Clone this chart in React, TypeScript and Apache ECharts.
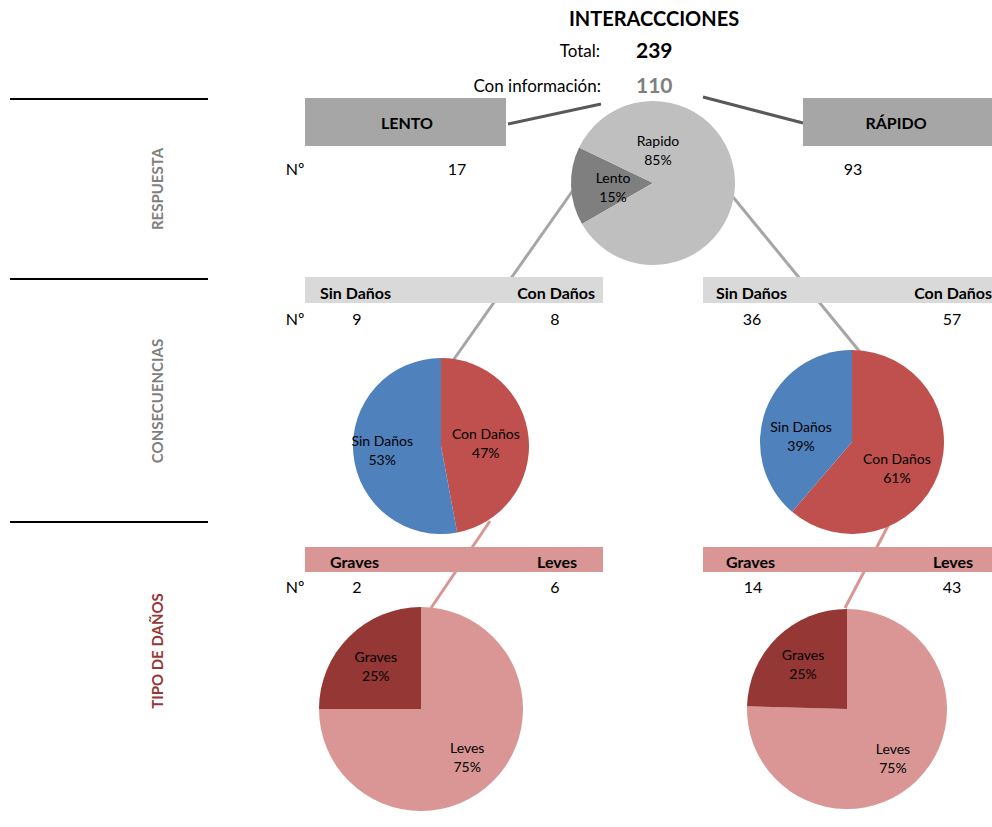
import React, { useEffect, useRef } from 'react';
import * as echarts from 'echarts';

const TITLE = 'INTERACCCIONES';
const TOTAL_LABEL = 'Total:';
const TOTAL_VALUE = 239;
const INFO_LABEL = 'Con información:';
const INFO_VALUE = 110;

const SECTION_TITLES = ['RESPUESTA', 'CONSECUENCIAS', 'TIPO DE DAÑOS'];
const RESPUESTA_HEADERS = ['LENTO', 'RÁPIDO'];
const RESPUESTA_NAMES = ['Lento', 'Rapido'];
const RESPUESTA_VALUES = [17, 93];
const CONSEC_NAMES = ['Sin Daños', 'Con Daños'];
const CONSEC_LENTO = [9, 8];
const CONSEC_RAPIDO = [36, 57];
const TIPO_NAMES = ['Graves', 'Leves'];
const TIPO_LENTO = [2, 6];
const TIPO_RAPIDO = [14, 43];
const ROW_LABEL = 'Nº';

const FONT = 'Lato';
const C_LENTO = '#7f7f7f';
const C_RAPIDO = '#bfbfbf';
const C_SIN = '#4f81bd';
const C_CON = '#c0504d';
const C_GRAVES = '#953735';
const C_LEVES = '#d99694';

function txt(text: string, x: number, y: number, opts: any = {}) {
  return {
    type: 'text',
    x,
    y,
    z: 20,
    rotation: opts.rotation || 0,
    style: {
      text,
      fill: opts.fill || '#000',
      font: `${opts.bold ? 'bold ' : ''}${opts.size || 16}px ${FONT}`,
      align: opts.align || 'center',
      verticalAlign: 'middle',
    },
  };
}
function rect(x: number, y: number, width: number, height: number, fill: string) {
  return { type: 'rect', z: 1, shape: { x, y, width, height }, style: { fill } };
}
function line(x1: number, y1: number, x2: number, y2: number, stroke: string, lineWidth: number) {
  return { type: 'line', z: 0, shape: { x1, y1, x2, y2 }, style: { stroke, lineWidth } };
}

function pieSeries(center: number[], radius: number, data: any[], startAngle: number, offsets: number[][]) {
  return {
    type: 'pie',
    center,
    radius,
    startAngle,
    clockwise: true,
    silent: true,
    avoidLabelOverlap: false,
    percentPrecision: 0,
    z: 5,
    data,
    itemStyle: { borderWidth: 0 },
    label: {
      show: true,
      position: 'inside',
      formatter: '{b}\n{d}%',
      color: '#000',
      fontFamily: FONT,
      fontSize: 14,
      lineHeight: 19,
    },
    labelLine: { show: false },
    labelLayout: (p: any) => {
      const o = offsets[p.dataIndex] || [0, 0];
      return { dx: o[0], dy: o[1] };
    },
  };
}

export default function App() {
  const ref = useRef<HTMLDivElement>(null);
  useEffect(() => {
    if (!ref.current) return;
    const chart = echarts.init(ref.current, null, { renderer: 'svg' });

    const topData = RESPUESTA_NAMES.map((n, i) => ({
      name: n,
      value: RESPUESTA_VALUES[i],
      itemStyle: { color: i === 0 ? C_LENTO : C_RAPIDO },
    }));
    const consecData = (vals: number[]) =>
      [1, 0].map((i) => ({ name: CONSEC_NAMES[i], value: vals[i], itemStyle: { color: i === 0 ? C_SIN : C_CON } }));
    const tipoData = (vals: number[]) =>
      [1, 0].map((i) => ({ name: TIPO_NAMES[i], value: vals[i], itemStyle: { color: i === 0 ? C_GRAVES : C_LEVES } }));

    const graphics: any[] = [
      // left section separators
      line(10, 99, 208, 99, '#000', 2),
      line(10, 279, 208, 279, '#000', 2),
      line(10, 522, 208, 522, '#000', 2),
      txt(SECTION_TITLES[0], 157, 189, { bold: true, size: 15, fill: '#7f7f7f', rotation: Math.PI / 2 }),
      txt(SECTION_TITLES[1], 157, 401, { bold: true, size: 15, fill: '#7f7f7f', rotation: Math.PI / 2 }),
      txt(SECTION_TITLES[2], 157, 651, { bold: true, size: 15, fill: C_GRAVES, rotation: Math.PI / 2 }),
      // header
      txt(TITLE, 654, 18, { bold: true, size: 20 }),
      txt(TOTAL_LABEL, 600, 50, { size: 17, align: 'right' }),
      txt(String(TOTAL_VALUE), 636, 49, { bold: true, size: 21, align: 'left' }),
      txt(INFO_LABEL, 601, 85, { size: 17, align: 'right' }),
      txt(String(INFO_VALUE), 636, 84, { bold: true, size: 21, align: 'left', fill: '#7f7f7f' }),
      // respuesta boxes
      rect(305, 98, 201, 48, '#a6a6a6'),
      rect(803, 98, 189, 48, '#a6a6a6'),
      txt(RESPUESTA_HEADERS[0], 407, 122, { bold: true, size: 16 }),
      txt(RESPUESTA_HEADERS[1], 896, 122, { bold: true, size: 16 }),
      line(508, 124, 601, 104, '#595959', 3),
      line(703, 97, 803, 123, '#595959', 3),
      txt(ROW_LABEL, 295, 168, { size: 16 }),
      txt(String(RESPUESTA_VALUES[0]), 457, 168, { size: 16 }),
      txt(String(RESPUESTA_VALUES[1]), 853, 168, { size: 16 }),
      // connectors to consecuencias
      line(576, 186, 452, 362, '#a6a6a6', 3),
      line(733, 197, 860, 352, '#a6a6a6', 3),
      // consecuencias bands
      rect(305, 277, 298, 26, '#d9d9d9'),
      rect(703, 277, 289, 26, '#d9d9d9'),
      txt(CONSEC_NAMES[0], 320, 292, { bold: true, size: 16, align: 'left' }),
      txt(CONSEC_NAMES[1], 595, 292, { bold: true, size: 16, align: 'right' }),
      txt(CONSEC_NAMES[0], 716, 292, { bold: true, size: 16, align: 'left' }),
      txt(CONSEC_NAMES[1], 992, 292, { bold: true, size: 16, align: 'right' }),
      txt(ROW_LABEL, 295, 318, { size: 16 }),
      txt(String(CONSEC_LENTO[0]), 357, 318, { size: 16 }),
      txt(String(CONSEC_LENTO[1]), 555, 318, { size: 16 }),
      txt(String(CONSEC_RAPIDO[0]), 752, 318, { size: 16 }),
      txt(String(CONSEC_RAPIDO[1]), 952, 318, { size: 16 }),
      // connectors to tipo
      line(490, 521, 431, 608, C_LEVES, 3),
      line(889, 524, 845, 608, C_LEVES, 3),
      // tipo bands
      rect(305, 547, 298, 25, C_LEVES),
      rect(703, 547, 289, 25, C_LEVES),
      txt(TIPO_NAMES[0], 330, 561, { bold: true, size: 16, align: 'left' }),
      txt(TIPO_NAMES[1], 577, 561, { bold: true, size: 16, align: 'right' }),
      txt(TIPO_NAMES[0], 726, 561, { bold: true, size: 16, align: 'left' }),
      txt(TIPO_NAMES[1], 973, 561, { bold: true, size: 16, align: 'right' }),
      txt(ROW_LABEL, 295, 586, { size: 16 }),
      txt(String(TIPO_LENTO[0]), 357, 586, { size: 16 }),
      txt(String(TIPO_LENTO[1]), 555, 586, { size: 16 }),
      txt(String(TIPO_RAPIDO[0]), 753, 586, { size: 16 }),
      txt(String(TIPO_RAPIDO[1]), 952, 586, { size: 16 }),
    ];

    chart.setOption({
      animation: false,
      backgroundColor: '#fff',
      textStyle: { fontFamily: FONT },
      graphic: { elements: graphics },
      series: [
        pieSeries([653, 183], 82, topData, 210, [[4, 2], [-39, -31]]),
        pieSeries([441, 446], 88, consecData(CONSEC_LENTO), 90, [[-2, 1], [-12, 0]]),
        pieSeries([852, 442], 92, consecData(CONSEC_RAPIDO), 90, [[-1, 9], [-5, 11]]),
        pieSeries([421, 709], 102, tipoData(TIPO_LENTO), 90, [[8, 10], [-7, -5]]),
        pieSeries([847, 709], 100, tipoData(TIPO_RAPIDO), 90, [[9, 11], [-7, -7]]),
      ],
    });
    return () => chart.dispose();
  }, []);
  return <div ref={ref} style={{ position: 'fixed', left: 0, top: 0, width: 992, height: 827 }} />;
}
